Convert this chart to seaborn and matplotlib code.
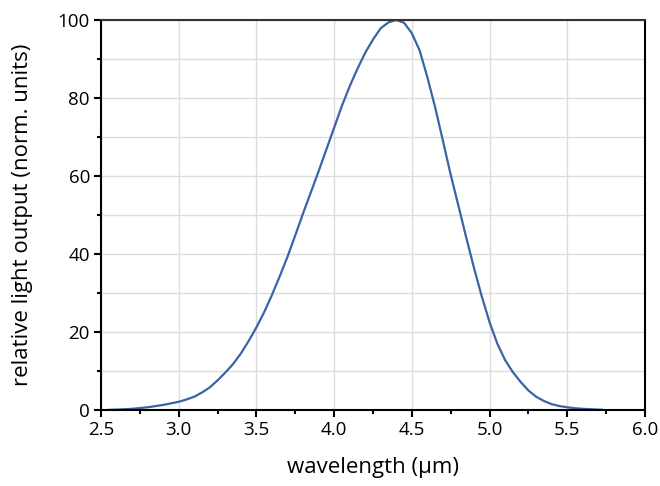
import matplotlib
matplotlib.use("Agg")
import matplotlib.pyplot as plt
from matplotlib.ticker import MultipleLocator
import seaborn as sns
import pandas as pd

wavelength = [2.55, 2.6, 2.65, 2.7, 2.75, 2.8, 2.85, 2.9, 2.95, 3.0, 3.05, 3.1,
              3.15, 3.2, 3.25, 3.3, 3.35, 3.4, 3.45, 3.5, 3.55, 3.6, 3.65, 3.7,
              3.75, 3.8, 3.85, 3.9, 3.95, 4.0, 4.05, 4.1, 4.15, 4.2, 4.25, 4.3,
              4.35, 4.4, 4.45, 4.5, 4.55, 4.6, 4.65, 4.7, 4.75, 4.8, 4.85, 4.9,
              4.95, 5.0, 5.05, 5.1, 5.15, 5.2, 5.25, 5.3, 5.35, 5.4, 5.45, 5.5,
              5.55, 5.6, 5.65, 5.7, 5.73]
output = [0.05, 0.1, 0.2, 0.3, 0.5, 0.7, 1.0, 1.3, 1.7, 2.1, 2.7, 3.4,
          4.5, 5.8, 7.6, 9.6, 11.8, 14.5, 17.7, 21.2, 25.1, 29.5, 34.3, 39.3,
          44.8, 50.4, 55.8, 61.2, 66.8, 72.4, 78.0, 83.0, 87.5, 91.6, 95.0, 97.9,
          99.4, 100.0, 99.3, 96.6, 92.2, 85.3, 77.6, 69.0, 60.3, 52.3, 44.2, 36.4,
          29.1, 22.5, 17.0, 12.8, 9.7, 7.2, 5.0, 3.4, 2.3, 1.5, 1.0, 0.7,
          0.45, 0.3, 0.2, 0.1, 0.05]

df = pd.DataFrame({"wavelength": wavelength, "output": output})

sns.set_theme(style="whitegrid")
plt.rcParams['font.family'] = ['Open Sans', 'DejaVu Sans']

fig = plt.figure(figsize=(6.6, 4.86), dpi=100)
ax = fig.add_axes([101/660, 1-410/486, (645-101)/660, (410-20)/486])

sns.lineplot(data=df, x="wavelength", y="output", ax=ax, color="#3b63a8",
             linewidth=1.6, estimator=None, sort=False)

ax.set_xlim(2.5, 6.0)
ax.set_ylim(0, 100)
ax.xaxis.set_major_locator(MultipleLocator(0.5))
ax.xaxis.set_minor_locator(MultipleLocator(0.25))
ax.yaxis.set_major_locator(MultipleLocator(20))
ax.yaxis.set_minor_locator(MultipleLocator(10))
ax.set_xticks(ax.get_xticks())
ax.set_xticklabels([f"{v:.1f}" for v in ax.get_xticks()])
ax.set_xlim(2.5, 6.0)

ax.grid(False)
ax.grid(True, which="major", axis="x", color="#dcdcdc", linewidth=1)
ax.grid(True, which="both", axis="y", color="#dcdcdc", linewidth=1)
ax.set_axisbelow(True)

for s in ax.spines.values():
    s.set_visible(True)
    s.set_color("black")
    s.set_linewidth(1.5)
ax.spines["top"].set_color("#333333")

ax.tick_params(which="major", direction="out", length=5, width=1.5,
               color="black", labelsize=13.5, labelcolor="black", pad=3,
               bottom=True, left=True)
ax.tick_params(which="minor", direction="out", length=3, width=1.5,
               color="black", bottom=True, left=True)

ax.set_xlabel("wavelength (µm)", fontsize=16, color="black", labelpad=13)
ax.set_ylabel("relative light output (norm. units)", fontsize=16,
              color="black", labelpad=18)

fig.savefig("out.png", dpi=100)
